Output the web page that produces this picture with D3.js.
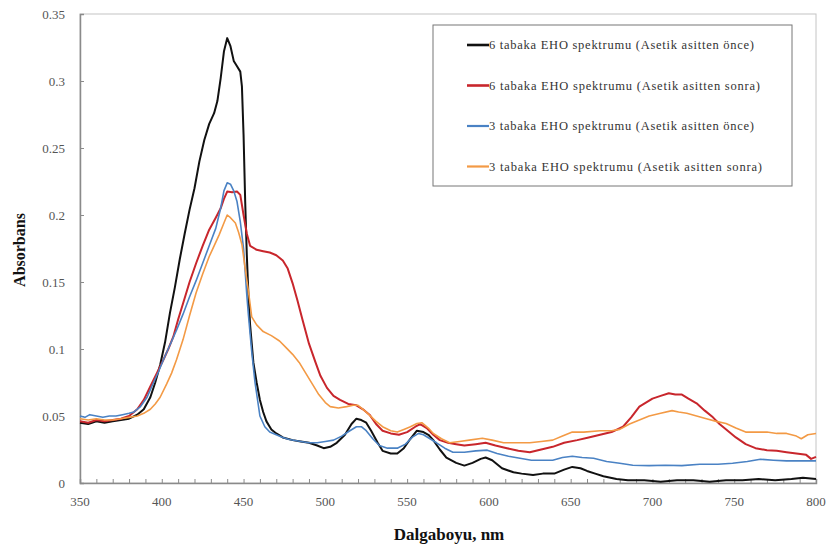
<!DOCTYPE html>
<html>
<head>
<meta charset="utf-8">
<script src="https://cdn.jsdelivr.net/npm/d3@7"></script>
<style>
  body { margin: 0; background: #fff; }
  svg { font-family: "Liberation Serif", "Times New Roman", serif; }
</style>
</head>
<body>
<svg id="chart" width="829" height="552"></svg>
<script>
// ---- data: [wavelength nm, absorbance] ----
var black6 = [[350,0.045],[355,0.044],[360,0.046],[365,0.045],[370,0.046],[375,0.047],[380,0.048],[385,0.051],[389,0.055],[393,0.064],[396,0.075],[399,0.088],[402,0.105],[405,0.127],[408,0.146],[411,0.167],[414,0.186],[417,0.204],[420,0.220],[423,0.240],[426,0.256],[429,0.268],[432,0.276],[434,0.285],[436,0.302],[438,0.322],[440,0.332],[442,0.326],[444,0.315],[446,0.311],[448,0.307],[449,0.296],[450,0.26],[451,0.21],[452,0.17],[453,0.14],[454,0.118],[456,0.09],[458,0.075],[460,0.062],[462,0.053],[464,0.046],[467,0.040],[470,0.037],[474,0.034],[480,0.032],[485,0.031],[490,0.030],[495,0.028],[499,0.026],[503,0.027],[507,0.030],[512,0.036],[516,0.044],[519,0.048],[522,0.047],[525,0.045],[528,0.039],[532,0.030],[535,0.024],[540,0.022],[544,0.022],[548,0.026],[552,0.033],[556,0.039],[560,0.038],[563,0.036],[566,0.032],[570,0.025],[574,0.019],[580,0.015],[585,0.013],[590,0.015],[595,0.018],[598,0.019],[602,0.017],[608,0.011],[615,0.008],[620,0.007],[627,0.006],[633,0.007],[640,0.007],[646,0.010],[651,0.012],[656,0.011],[660,0.009],[665,0.007],[670,0.005],[678,0.003],[685,0.002],[695,0.002],[705,0.001],[715,0.002],[725,0.002],[735,0.001],[745,0.002],[755,0.002],[765,0.003],[775,0.002],[785,0.003],[792,0.004],[800,0.003]];

var red6 = [[350,0.046],[355,0.045],[360,0.047],[365,0.046],[370,0.047],[375,0.048],[380,0.050],[385,0.055],[389,0.062],[393,0.072],[397,0.082],[401,0.092],[404,0.100],[407,0.109],[410,0.122],[413,0.134],[417,0.150],[421,0.164],[425,0.177],[429,0.189],[433,0.198],[436,0.205],[438,0.212],[440,0.2175],[443,0.217],[446,0.2175],[448,0.215],[450,0.200],[452,0.186],[454,0.177],[458,0.174],[462,0.173],[466,0.172],[470,0.170],[474,0.166],[477,0.160],[480,0.149],[483,0.136],[486,0.122],[490,0.104],[494,0.090],[497,0.080],[501,0.071],[505,0.065],[509,0.062],[514,0.059],[519,0.058],[523,0.055],[527,0.051],[531,0.044],[535,0.039],[540,0.037],[545,0.036],[550,0.038],[555,0.042],[558,0.044],[562,0.041],[566,0.036],[570,0.032],[575,0.030],[580,0.029],[585,0.028],[592,0.029],[598,0.030],[604,0.028],[611,0.026],[618,0.024],[625,0.023],[632,0.025],[639,0.027],[646,0.030],[654,0.032],[661,0.034],[668,0.036],[675,0.038],[682,0.042],[687,0.049],[692,0.057],[696,0.060],[700,0.063],[705,0.065],[710,0.067],[714,0.066],[718,0.066],[722,0.063],[727,0.0595],[732,0.054],[737,0.049],[741,0.044],[746,0.039],[751,0.034],[757,0.029],[763,0.026],[770,0.0245],[776,0.024],[782,0.023],[788,0.022],[794,0.021],[797,0.018],[800,0.0195]];

var blue3 = [[350,0.050],[353,0.049],[356,0.051],[360,0.050],[364,0.049],[368,0.050],[372,0.050],[376,0.051],[380,0.052],[383,0.053],[387,0.057],[391,0.064],[395,0.075],[398,0.083],[401,0.092],[405,0.103],[409,0.114],[413,0.126],[417,0.139],[421,0.151],[425,0.164],[429,0.177],[433,0.190],[436,0.205],[438,0.218],[440,0.224],[442,0.223],[444,0.218],[446,0.210],[448,0.195],[450,0.175],[452,0.140],[453,0.125],[455,0.098],[457,0.075],[460,0.050],[463,0.042],[466,0.038],[470,0.036],[474,0.034],[478,0.0325],[485,0.031],[490,0.030],[495,0.030],[500,0.031],[505,0.032],[510,0.035],[515,0.039],[519,0.042],[522,0.042],[525,0.039],[529,0.033],[533,0.028],[538,0.026],[544,0.026],[549,0.029],[553,0.034],[557,0.037],[560,0.036],[564,0.033],[568,0.030],[573,0.026],[578,0.023],[585,0.023],[592,0.024],[599,0.0245],[605,0.022],[612,0.020],[619,0.0185],[626,0.017],[633,0.017],[639,0.017],[645,0.019],[651,0.020],[657,0.019],[664,0.0185],[672,0.016],[680,0.0147],[688,0.0132],[698,0.013],[708,0.0132],[718,0.013],[729,0.014],[740,0.014],[749,0.0147],[758,0.016],[766,0.0177],[774,0.017],[782,0.0165],[790,0.0165],[800,0.0165]];

var orange3 = [[350,0.048],[355,0.047],[360,0.048],[365,0.047],[370,0.047],[375,0.048],[380,0.049],[385,0.050],[389,0.052],[393,0.055],[396,0.059],[399,0.064],[403,0.074],[406,0.082],[409,0.092],[413,0.107],[417,0.125],[421,0.142],[425,0.156],[429,0.169],[432,0.177],[435,0.185],[438,0.194],[440,0.200],[442,0.198],[445,0.194],[447,0.187],[449,0.178],[451,0.160],[453,0.143],[455,0.124],[458,0.118],[462,0.113],[467,0.110],[472,0.106],[476,0.101],[480,0.096],[484,0.090],[488,0.082],[492,0.074],[496,0.066],[500,0.060],[503,0.057],[508,0.056],[513,0.057],[517,0.058],[520,0.058],[524,0.054],[527,0.0506],[531,0.046],[535,0.042],[540,0.039],[544,0.038],[548,0.040],[552,0.042],[556,0.0444],[559,0.045],[563,0.041],[566,0.037],[571,0.033],[576,0.030],[582,0.031],[588,0.032],[596,0.0334],[602,0.032],[609,0.030],[617,0.030],[625,0.030],[632,0.031],[639,0.032],[645,0.035],[651,0.038],[658,0.038],[668,0.039],[675,0.039],[680,0.040],[686,0.044],[692,0.047],[698,0.050],[705,0.052],[712,0.054],[716,0.053],[721,0.052],[727,0.050],[733,0.048],[739,0.046],[745,0.0444],[751,0.041],[757,0.038],[764,0.038],[770,0.038],[776,0.037],[782,0.037],[788,0.035],[791,0.033],[795,0.036],[800,0.037]];

var seriesNames = ["6 tabaka EHO spektrumu (Asetik asitten önce)",
                   "6 tabaka EHO spektrumu (Asetik asitten sonra)",
                   "3 tabaka EHO spektrumu (Asetik asitten önce)",
                   "3 tabaka EHO spektrumu (Asetik asitten sonra)"];
var legendTextLen = [265, 271, 265, 273];
var xTickVals = [350, 400, 450, 500, 550, 600, 650, 700, 750, 800];
var yTickVals = [0, 0.05, 0.1, 0.15, 0.2, 0.25, 0.3, 0.35];

var colors = ["#111111", "#c8262c", "#4a82c4", "#f39a45"];
var widths = [2, 2, 1.6, 1.6];
var allSeries = [black6, red6, blue3, orange3];

// ---- layout ----
var margin = {left: 80, top: 14, right: 13, bottom: 69};
var W = 829 - margin.left - margin.right,
    H = 552 - margin.top - margin.bottom;

var svg = d3.select("#chart");
var g = svg.append("g").attr("transform", "translate(" + margin.left + "," + margin.top + ")");

var x = d3.scaleLinear().domain([350, 800]).range([0, W]);
var y = d3.scaleLinear().domain([0, 0.35]).range([H, 0]);

// frame top/right
g.append("rect").attr("x", 0).attr("y", 0).attr("width", W).attr("height", H)
  .attr("fill", "none").attr("stroke", "#c4c4c4").attr("stroke-width", 1);

// x axis, minor ticks every 10 inside
var xAxis = g.append("g").attr("transform", "translate(0," + H + ")")
  .call(d3.axisBottom(x).tickValues(d3.range(350, 801, 10)).tickSize(-4).tickFormat(""));
xAxis.selectAll("line").attr("stroke", "#8a8a8a");
xAxis.select(".domain").attr("stroke", "#8a8a8a").attr("stroke-width", 1.5);

g.append("g").selectAll("text").data(xTickVals).enter().append("text")
  .attr("x", function(d) { return x(d); })
  .attr("y", H + 23)
  .attr("text-anchor", "middle")
  .attr("fill", "#555")
  .style("font-size", "13px")
  .text(function(d) { return d; });

var yAxis = g.append("g")
  .call(d3.axisLeft(y).tickValues(yTickVals).tickSize(-4).tickFormat(""));
yAxis.selectAll("line").attr("stroke", "#8a8a8a");
yAxis.select(".domain").attr("stroke", "#8a8a8a").attr("stroke-width", 1.5);

g.append("g").selectAll("text").data(yTickVals).enter().append("text")
  .attr("x", -15)
  .attr("y", function(d) { return y(d) + 5; })
  .attr("text-anchor", "end")
  .attr("fill", "#555")
  .style("font-size", "13px")
  .text(function(d) { return d; });

// lines
var line = d3.line()
  .x(function(d) { return x(d[0]); })
  .y(function(d) { return y(d[1]); });

allSeries.forEach(function(s, i) {
  g.append("path").datum(s)
    .attr("d", line)
    .attr("fill", "none")
    .attr("stroke", colors[i])
    .attr("stroke-width", widths[i])
    .attr("stroke-linejoin", "round");
});

// axis titles
svg.append("text")
  .attr("x", 449).attr("y", 540)
  .attr("text-anchor", "middle")
  .style("font-weight", "bold").style("font-size", "17px")
  .attr("fill", "#111")
  .text("Dalgaboyu, nm");

svg.append("text")
  .attr("transform", "translate(25,250) rotate(-90)")
  .attr("text-anchor", "middle")
  .style("font-weight", "bold").style("font-size", "16px")
  .attr("fill", "#111")
  .text("Absorbans");

// legend
var legend = svg.append("g");
legend.append("rect")
  .attr("x", 433).attr("y", 25).attr("width", 359).attr("height", 161)
  .attr("fill", "#fff").attr("stroke", "#777").attr("stroke-width", 1);

var rows = legend.selectAll("g.row").data(seriesNames).enter().append("g")
  .attr("transform", function(d, i) { return "translate(0," + (45 + i * 40.5) + ")"; });

rows.append("line")
  .attr("x1", 467).attr("x2", 489).attr("y1", 0).attr("y2", 0)
  .attr("stroke", function(d, i) { return colors[i]; })
  .attr("stroke-width", function(d, i) { return widths[i] + 0.6; });

rows.append("text")
  .attr("x", 489).attr("y", 4)
  .attr("fill", "#333")
  .attr("textLength", function(d, i) { return legendTextLen[i]; })
  .attr("lengthAdjust", "spacing")
  .style("font-size", "12.5px")
  .text(function(d) { return d; });
</script>
</body>
</html>
